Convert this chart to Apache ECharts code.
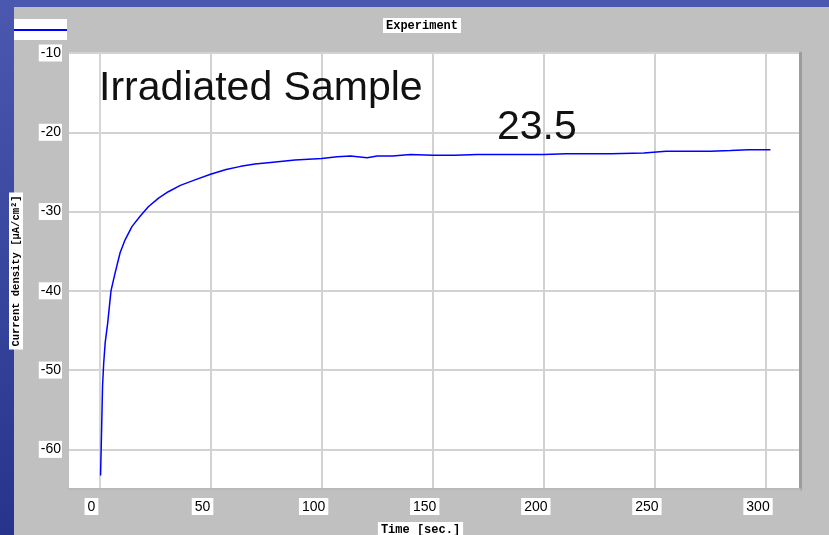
<!DOCTYPE html>
<html>
<head>
<meta charset="utf-8">
<script src="https://cdn.jsdelivr.net/npm/echarts@6/dist/echarts.min.js"></script>
<style>
html,body{margin:0;padding:0;background:#3f4fa8;}
#c{width:829px;height:535px;}
</style>
</head>
<body>
<div id="c"></div>
<script>
// Time (sec.)
const times = [0.5, 0.9, 1.4, 1.9, 2.6, 3.7, 5.2, 7.0, 9.3, 11.5, 14.6, 18.3, 22, 26.6, 31, 36.4, 43, 50, 57, 63.6, 70, 77, 88, 100, 107, 113, 120.5, 125, 132, 140, 150, 160, 170, 180, 190, 200, 210, 220, 230, 245, 255, 265, 275, 284, 292, 302];
// Current density (µA/cm²)
const currents = [-63.3, -58.4, -52.0, -49.2, -46.5, -44.1, -40.0, -37.8, -35.2, -33.6, -31.9, -30.6, -29.4, -28.3, -27.5, -26.7, -26.0, -25.3, -24.7, -24.3, -24.0, -23.8, -23.5, -23.3, -23.1, -23.0, -23.2, -23.0, -23.0, -22.8, -22.9, -22.9, -22.8, -22.8, -22.8, -22.8, -22.7, -22.7, -22.7, -22.6, -22.4, -22.4, -22.4, -22.3, -22.2, -22.2];
const xTicks = [0, 50, 100, 150, 200, 250, 300];
const yTicks = [-60, -50, -40, -30, -20, -10];
const seriesName = 'Experiment';
const annotationTitle = 'Irradiated Sample';
const annotationValue = '23.5';

const chart = echarts.init(document.getElementById('c'), null, {renderer: 'canvas'});
const sans = 'Liberation Sans, Arial, sans-serif';
const mono = 'Liberation Mono, DejaVu Sans Mono, monospace';

chart.setOption({
  backgroundColor: {
    type: 'linear', x: 0, y: 0, x2: 0, y2: 1,
    colorStops: [{offset: 0, color: '#4a58b0'}, {offset: 1, color: '#27348c'}]
  },
  animation: false,
  title: {
    text: seriesName,
    left: 383, top: 18,
    padding: [2, 3, 1, 3],
    backgroundColor: '#ffffff',
    textStyle: {fontFamily: mono, fontSize: 12, fontWeight: 'bold', color: '#000'}
  },
  legend: {
    left: 14, top: 19,
    data: [seriesName],
    icon: 'rect',
    itemWidth: 53, itemHeight: 2,
    padding: [10, 0, 9, 0],
    backgroundColor: '#ffffff',
    formatter: function () { return ''; },
    textStyle: {fontSize: 12}
  },
  grid: {
    left: 69, right: 29, top: 53, bottom: 46,
    outerBoundsMode: 'none',
    containLabel: false,
    show: true, backgroundColor: '#ffffff', borderWidth: 0
  },
  xAxis: {
    type: 'value',
    min: -13.7, max: 315.3,
    name: '{t|Time [sec.]}{s|}',
    nameLocation: 'middle',
    nameGap: 33,
    nameTextStyle: {
      rich: {
        t: {fontFamily: mono, fontSize: 12, fontWeight: 'bold', color: '#000', backgroundColor: '#fff', padding: [2, 3, 2, 3]},
        s: {width: 28}
      }
    },
    axisLine: {show: true, lineStyle: {color: '#b8b8b8', width: 2}},
    axisTick: {show: false, customValues: xTicks},
    splitLine: {show: true, lineStyle: {color: '#d2d2d2', width: 2}},
    axisLabel: {
      customValues: xTicks,
      margin: 9,
      formatter: function (v) { return '{v|' + v + '}{s|}'; },
      rich: {
        v: {fontFamily: sans, fontSize: 14, color: '#000', backgroundColor: '#fff', padding: [2, 3, 1, 3]},
        s: {width: 16}
      }
    }
  },
  yAxis: [{
    type: 'value',
    min: -65, max: -10,
    name: 'Current density [µA/cm²]',
    nameLocation: 'middle',
    nameRotate: 90,
    nameGap: 46,
    nameTextStyle: {fontFamily: mono, fontSize: 10.5, fontWeight: 'bold', color: '#000', backgroundColor: '#fff', padding: [2, 3, 1, 3]},
    axisLine: {show: true, lineStyle: {color: '#d6d6d6', width: 2}},
    axisTick: {show: false, customValues: yTicks},
    splitLine: {show: true, lineStyle: {color: '#d2d2d2', width: 2}},
    axisLabel: {
      customValues: yTicks,
      margin: 7,
      fontFamily: sans, fontSize: 14, color: '#000',
      backgroundColor: '#fff', padding: [2, 1, 1, 2]
    }
  }, {
    type: 'value',
    position: 'right',
    min: -65, max: -10,
    axisLine: {show: true, lineStyle: {color: '#9c9c9c', width: 3}},
    axisTick: {show: false},
    axisLabel: {show: false},
    splitLine: {show: false}
  }],
  graphic: [
    {type: 'rect', z: -10, silent: true, shape: {x: 14, y: 7, width: 829 - 14, height: 535 - 7}, style: {fill: '#c0c0c0'}},
    {type: 'text', x: 99, y: 89, z: 10, style: {text: annotationTitle, fontFamily: sans, fontSize: 41, fill: '#111', verticalAlign: 'middle', align: 'left'}},
    {type: 'text', x: 497, y: 128, z: 10, style: {text: annotationValue, fontFamily: sans, fontSize: 41, fill: '#111', verticalAlign: 'middle', align: 'left'}}
  ],
  series: [{
    name: seriesName,
    type: 'line',
    showSymbol: false,
    symbol: 'none',
    data: times.map((t, i) => [t, currents[i]]),
    lineStyle: {color: '#0000ff', width: 1.5},
    itemStyle: {color: '#0000ff'}
  }]
});
</script>
</body>
</html>
